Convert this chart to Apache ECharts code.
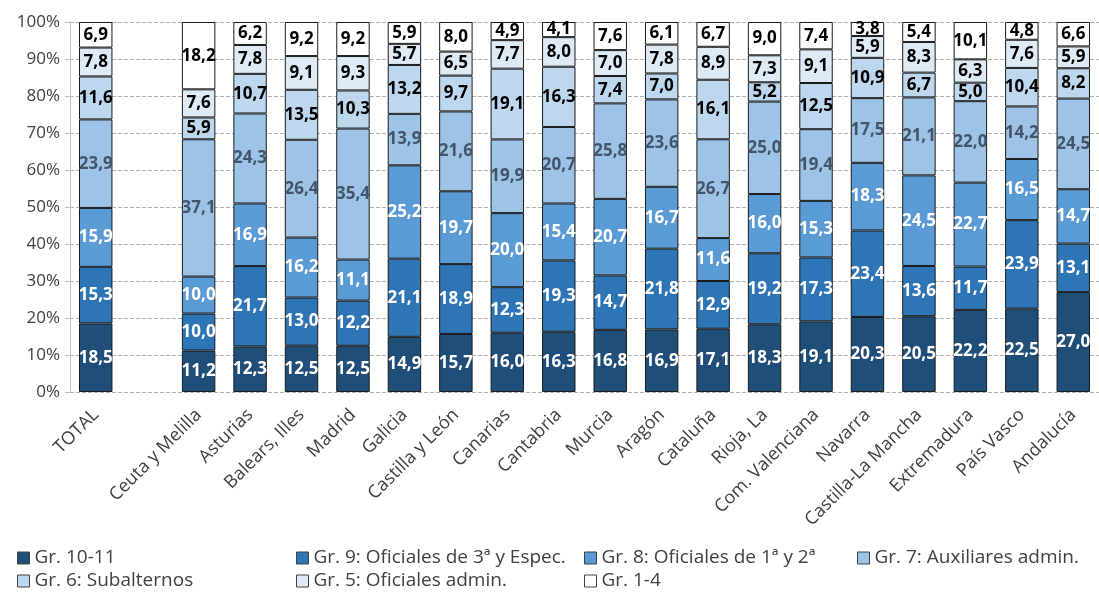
<!DOCTYPE html>
<html>
<head>
<meta charset="utf-8">
<script src="https://cdn.jsdelivr.net/npm/echarts@6/dist/echarts.min.js"></script>
<style>
  html, body { margin: 0; padding: 0; background: #fff; }
  #chart { width: 1099px; height: 592px; }
</style>
</head>
<body>
<div id="chart"></div>
<script>
// categorías (la segunda es un hueco vacío)
const categories = ['TOTAL', '', 'Ceuta y Melilla', 'Asturias', 'Balears, Illes', 'Madrid', 'Galicia',
  'Castilla y León', 'Canarias', 'Cantabria', 'Murcia', 'Aragón', 'Cataluña', 'Rioja, La',
  'Com. Valenciana', 'Navarra', 'Castilla-La Mancha', 'Extremadura', 'País Vasco', 'Andalucía']

const seriesNames = ['Gr. 10-11', 'Gr. 9: Oficiales de 3ª y Espec.', 'Gr. 8: Oficiales de 1ª y 2ª',
  'Gr. 7: Auxiliares admin.', 'Gr. 6: Subalternos', 'Gr. 5: Oficiales admin.', 'Gr. 1-4']

// porcentajes por grupo (null = hueco)
const gr10_11 = [18.5, null, 11.2, 12.3, 12.5, 12.5, 14.9, 15.7, 16.0, 16.3, 16.8, 16.9, 17.1, 18.3, 19.1, 20.3, 20.5, 22.2, 22.5, 27.0]
const gr9 = [15.3, null, 10.0, 21.7, 13.0, 12.2, 21.1, 18.9, 12.3, 19.3, 14.7, 21.8, 12.9, 19.2, 17.3, 23.4, 13.6, 11.7, 23.9, 13.1]
const gr8 = [15.9, null, 10.0, 16.9, 16.2, 11.1, 25.2, 19.7, 20.0, 15.4, 20.7, 16.7, 11.6, 16.0, 15.3, 18.3, 24.5, 22.7, 16.5, 14.7]
const gr7 = [23.9, null, 37.1, 24.3, 26.4, 35.4, 13.9, 21.6, 19.9, 20.7, 25.8, 23.6, 26.7, 25.0, 19.4, 17.5, 21.1, 22.0, 14.2, 24.5]
const gr6 = [11.6, null, 5.9, 10.7, 13.5, 10.3, 13.2, 9.7, 19.1, 16.3, 7.4, 7.0, 16.1, 5.2, 12.5, 10.9, 6.7, 5.0, 10.4, 8.2]
const gr5 = [7.8, null, 7.6, 7.8, 9.1, 9.3, 5.7, 6.5, 7.7, 8.0, 7.0, 7.8, 8.9, 7.3, 9.1, 5.9, 8.3, 6.3, 7.6, 5.9]
const gr1_4 = [6.9, null, 18.2, 6.2, 9.2, 9.2, 5.9, 8.0, 4.9, 4.1, 7.6, 6.1, 6.7, 9.0, 7.4, 3.8, 5.4, 10.1, 4.8, 6.6]

const groups = [gr10_11, gr9, gr8, gr7, gr6, gr5, gr1_4]
const colors = ['#1f4e79', '#2e75b6', '#5b9bd5', '#9dc3e6', '#bdd7ee', '#deebf7', '#ffffff']
const labelColors = ['#fff', '#fff', '#fff', '#44546a', '#000', '#000', '#000']

// barras al 100%: normalizar cada columna
const totals = categories.map((_, i) => groups.reduce((s, g) => s + (g[i] || 0), 0))

const chart = echarts.init(document.getElementById('chart'))

const series = groups.map((g, k) => ({
  name: seriesNames[k],
  type: 'bar',
  stack: 'total',
  barWidth: '65%',
  data: g.map((v, i) => v == null ? '-' : { value: v / totals[i] * 100, raw: v }),
  itemStyle: { color: colors[k], borderColor: '#1a1a1a', borderWidth: 1 },
  label: {
    show: true,
    position: 'inside',
    color: labelColors[k],
    fontFamily: 'Open Sans',
    fontWeight: 'bold',
    fontSize: 17,
    formatter: p => p.data.raw.toFixed(1).replace('.', ',')
  }
}))

const legendBase = {
  orient: 'vertical',
  bottom: -4,
  itemGap: 3,
  itemWidth: 12,
  itemHeight: 12,
  icon: 'rect',
  textStyle: { fontFamily: 'Open Sans', fontSize: 19, lineHeight: 20, color: '#404040' },
  itemStyle: { borderColor: '#404040', borderWidth: 1 }
}

chart.setOption({
  animation: false,
  grid: { left: 70, right: 0, top: 22, bottom: 200 },
  legend: [
    Object.assign({}, legendBase, { left: 12, data: [seriesNames[0], seriesNames[4]] }),
    Object.assign({}, legendBase, { left: 291, data: [seriesNames[1], seriesNames[5]] }),
    Object.assign({}, legendBase, { left: 579, data: [seriesNames[2], seriesNames[6]] }),
    Object.assign({}, legendBase, { left: 852, bottom: 19, data: [seriesNames[3]] })
  ],
  xAxis: {
    type: 'category',
    data: categories,
    axisLine: { show: false },
    axisTick: { show: false },
    axisLabel: { rotate: 45, interval: 0, fontFamily: 'Open Sans', fontSize: 18, color: '#404040', margin: 20 }
  },
  yAxis: {
    type: 'value',
    min: 0,
    max: 100,
    interval: 10,
    axisLine: { show: true, lineStyle: { color: '#bfbfbf' } },
    axisTick: { show: true, length: 5, lineStyle: { color: '#bfbfbf' } },
    axisLabel: { formatter: '{value}%', fontFamily: 'Open Sans', fontSize: 17, color: '#404040', margin: 10 },
    splitLine: { lineStyle: { color: '#b0b0b0', type: 'dashed' } }
  },
  series: series
})
</script>
</body>
</html>
